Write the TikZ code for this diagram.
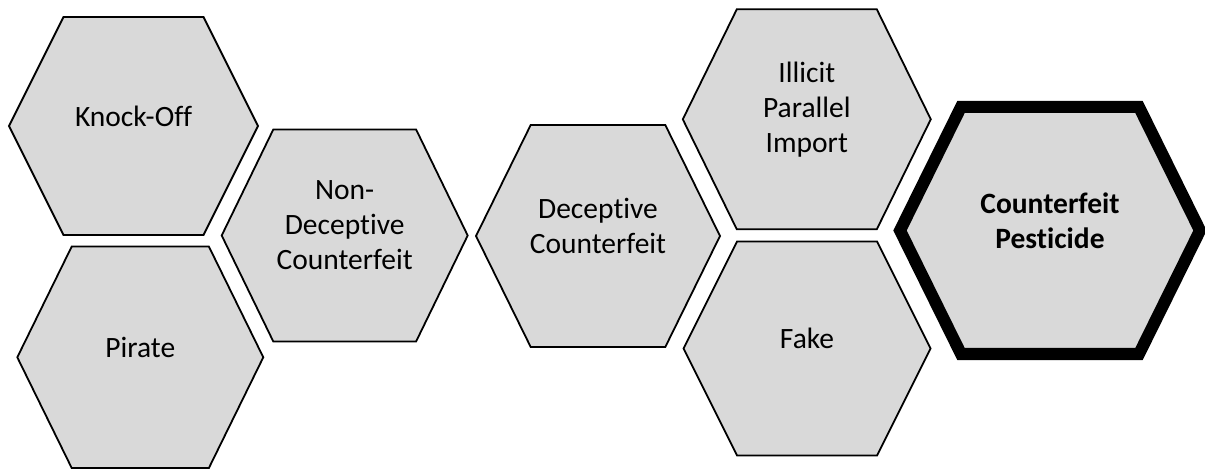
\documentclass[tikz,border=0pt]{standalone}
\usepackage{fontspec}
\setmainfont[Ligatures=NoCommon]{Carlito}
\definecolor{cellfill}{HTML}{D9D9D9}
\tikzset{
  cell/.style={draw=black, fill=cellfill, line width=1.8pt, line join=miter},
  keycell/.style={draw=black, fill=cellfill, line width=12pt, line join=miter},
  hextext/.style={align=center, inner sep=0pt, text=black,
    font=\fontsize{29.5}{35}\selectfont},
}
% hexagon with flat top: name, cx, cy, half-width, half-height, inset, style, label
\newcommand{\hexcell}[8]{%
  \draw[#7] ({#2-#4},{#3}) -- ({#2-#4+#6},{#3-#5}) -- ({#2+#4-#6},{#3-#5})
    -- ({#2+#4},{#3}) -- ({#2+#4-#6},{#3+#5}) -- ({#2-#4+#6},{#3+#5}) -- cycle;
  \node[hextext] (#1) at ({#2},{#3-10}) {#8};
}
\begin{document}
\begin{tikzpicture}[x=1pt, y=-1pt]
  \useasboundingbox (0,0) rectangle (1205,470);
  \hexcell{knockoff}{133.5}{126}{124.5}{109}{54.5}{cell}{Knock-Off}
  \hexcell{pirate}{140.3}{357.3}{123}{110.7}{54.4}{cell}{Pirate}
  \hexcell{nondeceptive}{344.7}{235.5}{123}{106}{51.6}{cell}{Non-\\Deceptive\\Counterfeit}
  \hexcell{deceptive}{598}{236}{122}{111}{54.7}{cell}{Deceptive\\Counterfeit}
  \hexcell{illicit}{806.8}{119.3}{124}{110}{54}{cell}{Illicit\\Parallel\\Import}
  \hexcell{fake}{807}{348.5}{123.5}{107}{53.5}{cell}{Fake}
  \hexcell{pesticide}{1050}{230.5}{150}{123.5}{61}{keycell}{\bfseries Counterfeit\\\bfseries Pesticide}
\end{tikzpicture}
\end{document}
